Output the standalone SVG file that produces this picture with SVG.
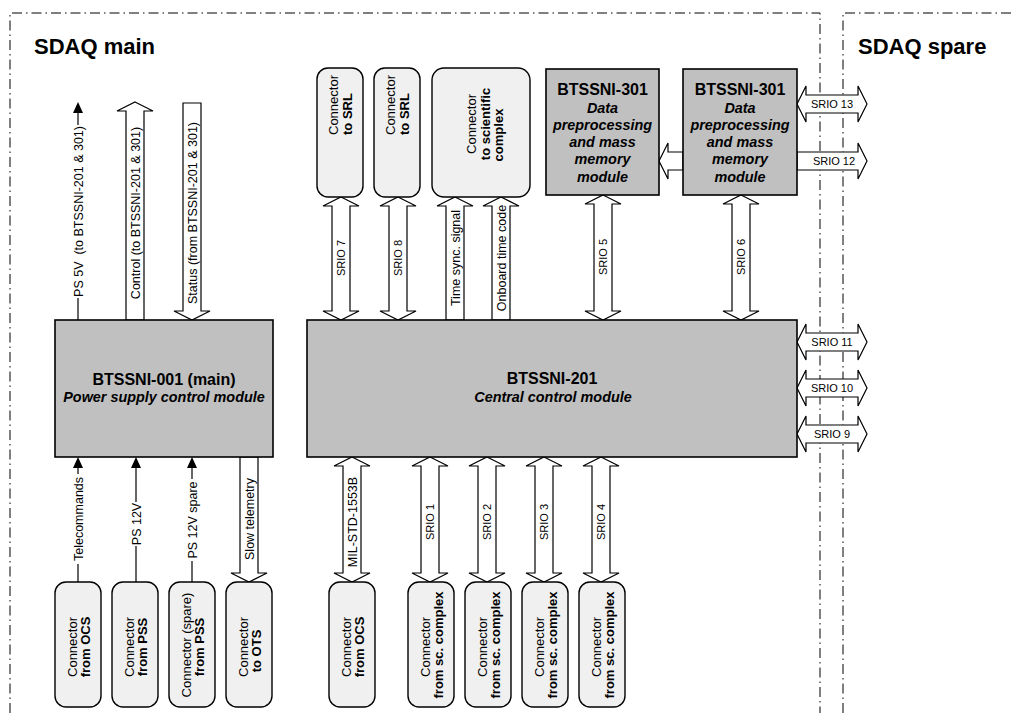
<svg xmlns="http://www.w3.org/2000/svg" width="1014" height="713" viewBox="0 0 1014 713">
<defs>
<style>
text{font-family:"Liberation Sans",Arial,sans-serif;fill:#000}
.border{fill:none;stroke:#000;stroke-width:1;stroke-dasharray:10 4 1.5 4}
.box{fill:#c0c0c0;stroke:#000;stroke-width:1.6}
.con{fill:#f0f0f0;stroke:#000;stroke-width:1.4}
.ba{fill:#fff;stroke:#000;stroke-width:1.2;stroke-linejoin:miter}
.ln{stroke:#000;stroke-width:1.2;fill:none}
.ah{fill:#000}
.t16{font-size:16px;font-weight:bold}
.ti{font-size:14.4px;font-weight:bold;font-style:italic}
.lbl{font-size:12.5px}
.sl{font-size:11px}
.cr{font-size:13px}
.cb{font-size:13px;font-weight:bold}
.hd{font-size:22px;font-weight:bold}
</style>
</defs>

<g id="frame">
<path class="border" d="M10,713 V13 H820 V713"/>
<path class="border" d="M843,713 V13 H1014"/>
<text class="hd" x="34" y="54">SDAQ main</text>
<text class="hd" x="858" y="54">SDAQ spare</text>
</g>

<g id="connectors">
<!-- power box top -->
<line class="ln" x1="78" y1="112" x2="78" y2="125"/>
<line class="ln" x1="78" y1="298" x2="78" y2="320"/>
<polygon class="ah" points="78,102 73,113 83,113"/>
<text class="lbl" transform="translate(82.5,211.5) rotate(-90)" text-anchor="middle" xml:space="preserve">PS 5V  (to BTSSNI-201 &amp; 301)</text>

<polygon class="ba" points="135,102 153,111 144,111 144,320 126,320 126,111 117,111"/>
<text class="lbl" transform="translate(139.5,213) rotate(-90)" text-anchor="middle">Control (to BTSSNI-201 &amp; 301)</text>

<polygon class="ba" points="183,103 201,103 201,311 210,311 192,320 174,311 183,311"/>
<text class="lbl" transform="translate(196.5,213) rotate(-90)" text-anchor="middle">Status (from BTSSNI-201 &amp; 301)</text>

<!-- power box bottom -->
<polygon class="ah" points="78,457 73,468 83,468"/>
<line class="ln" x1="78" y1="466" x2="78" y2="474"/>
<line class="ln" x1="78" y1="564" x2="78" y2="582"/>
<text class="lbl" transform="translate(82.5,519) rotate(-90)" text-anchor="middle">Telecommands</text>

<polygon class="ah" points="136,457 131,468 141,468"/>
<line class="ln" x1="136" y1="466" x2="136" y2="502"/>
<line class="ln" x1="136" y1="546" x2="136" y2="582"/>
<text class="lbl" transform="translate(140.5,524) rotate(-90)" text-anchor="middle">PS 12V</text>

<polygon class="ah" points="192,457 187,468 197,468"/>
<line class="ln" x1="192" y1="466" x2="192" y2="479"/>
<line class="ln" x1="192" y1="561" x2="192" y2="582"/>
<text class="lbl" transform="translate(196.5,520) rotate(-90)" text-anchor="middle">PS 12V spare</text>

<polygon class="ba" points="240,457 258,457 258,573 267,573 249,582 231,573 240,573"/>
<text class="lbl" transform="translate(253.5,519) rotate(-90)" text-anchor="middle">Slow telemetry</text>

<!-- top of central box -->
<polygon class="ba" points="341,197 359,206 350,206 350,311 359,311 341,320 323,311 332,311 332,206 323,206"/>
<text class="sl" transform="translate(345,258) rotate(-90)" text-anchor="middle">SRIO 7</text>
<polygon class="ba" points="398,197 416,206 407,206 407,311 416,311 398,320 380,311 389,311 389,206 380,206"/>
<text class="sl" transform="translate(402,258) rotate(-90)" text-anchor="middle">SRIO 8</text>

<polygon class="ba" points="455,197 473,206 464,206 464,320 446,320 446,206 437,206"/>
<text class="lbl" transform="translate(459.5,258) rotate(-90)" text-anchor="middle">Time sync. signal</text>
<polygon class="ba" points="501,197 519,206 510,206 510,320 492,320 492,206 483,206"/>
<text class="lbl" transform="translate(505.5,258) rotate(-90)" text-anchor="middle">Onboard time code</text>

<polygon class="ba" points="603,195 621,204 612,204 612,311 621,311 603,320 585,311 594,311 594,204 585,204"/>
<text class="sl" transform="translate(607,257) rotate(-90)" text-anchor="middle">SRIO 5</text>
<polygon class="ba" points="741,195 759,204 750,204 750,311 759,311 741,320 723,311 732,311 732,204 723,204"/>
<text class="sl" transform="translate(745,257) rotate(-90)" text-anchor="middle">SRIO 6</text>

<!-- between 301 boxes -->
<polygon class="ba" points="659,161 668,143 668,152 683,152 683,170 668,170 668,179"/>

<!-- right side horizontal -->
<polygon class="ba" points="797,104 806,86 806,95 858,95 858,86 867,104 858,122 858,113 806,113 806,122"/>
<text class="sl" x="832" y="108" text-anchor="middle">SRIO 13</text>
<polygon class="ba" points="797,152 858,152 858,143 867,161 858,179 858,170 797,170"/>
<text class="sl" x="834" y="165" text-anchor="middle">SRIO 12</text>
<polygon class="ba" points="797,342 806,324 806,333 858,333 858,324 867,342 858,360 858,351 806,351 806,360"/>
<text class="sl" x="832" y="346" text-anchor="middle">SRIO 11</text>
<polygon class="ba" points="797,388 806,370 806,379 858,379 858,370 867,388 858,406 858,397 806,397 806,406"/>
<text class="sl" x="832" y="392" text-anchor="middle">SRIO 10</text>
<polygon class="ba" points="797,434 806,416 806,425 858,425 858,416 867,434 858,452 858,443 806,443 806,452"/>
<text class="sl" x="832" y="438" text-anchor="middle">SRIO 9</text>

<!-- bottom of central box -->
<polygon class="ba" points="352,457 370,466 361,466 361,573 370,573 352,582 334,573 343,573 343,466 334,466"/>
<text class="lbl" transform="translate(356.5,522) rotate(-90)" text-anchor="middle">MIL-STD-1553B</text>
<polygon class="ba" points="430,457 448,466 439,466 439,573 448,573 430,582 412,573 421,573 421,466 412,466"/>
<text class="sl" transform="translate(434,522) rotate(-90)" text-anchor="middle">SRIO 1</text>
<polygon class="ba" points="487,457 505,466 496,466 496,573 505,573 487,582 469,573 478,573 478,466 469,466"/>
<text class="sl" transform="translate(491,522) rotate(-90)" text-anchor="middle">SRIO 2</text>
<polygon class="ba" points="544,457 562,466 553,466 553,573 562,573 544,582 526,573 535,573 535,466 526,466"/>
<text class="sl" transform="translate(548,522) rotate(-90)" text-anchor="middle">SRIO 3</text>
<polygon class="ba" points="601,457 619,466 610,466 610,573 619,573 601,582 583,573 592,573 592,466 583,466"/>
<text class="sl" transform="translate(605,522) rotate(-90)" text-anchor="middle">SRIO 4</text>
</g>

<g id="psu">
<rect class="box" x="55" y="320" width="218" height="137"/>
<text class="t16" x="164" y="385" text-anchor="middle">BTSSNI-001 (main)</text>
<text class="ti" x="164" y="402" text-anchor="middle">Power supply control module</text>
</g>

<g id="ccm">
<rect class="box" x="307" y="320" width="490" height="137"/>
<text class="t16" x="552" y="384" text-anchor="middle">BTSSNI-201</text>
<text class="ti" x="553" y="402" text-anchor="middle">Central control module</text>
</g>

<g id="dpm1">
<rect class="box" x="546" y="69" width="113" height="126"/>
<text class="t16" x="602.5" y="95" text-anchor="middle">BTSSNI-301</text>
<text class="ti" x="602.5" y="113" text-anchor="middle">Data</text>
<text class="ti" x="602.5" y="130" text-anchor="middle">preprocessing</text>
<text class="ti" x="602.5" y="147" text-anchor="middle">and mass</text>
<text class="ti" x="602.5" y="164" text-anchor="middle">memory</text>
<text class="ti" x="602.5" y="182" text-anchor="middle">module</text>
</g>

<g id="dpm2">
<rect class="box" x="683" y="69" width="114" height="126"/>
<text class="t16" x="740" y="95" text-anchor="middle">BTSSNI-301</text>
<text class="ti" x="740" y="113" text-anchor="middle">Data</text>
<text class="ti" x="740" y="130" text-anchor="middle">preprocessing</text>
<text class="ti" x="740" y="147" text-anchor="middle">and mass</text>
<text class="ti" x="740" y="164" text-anchor="middle">memory</text>
<text class="ti" x="740" y="182" text-anchor="middle">module</text>
</g>

<g id="srl1">
<rect class="con" x="317" y="68" width="46" height="129" rx="11"/>
<text class="cr" transform="translate(338,135) rotate(-90)">Connector</text>
<text class="cb" transform="translate(352,135) rotate(-90)">to SRL</text>
</g>
<g id="srl2">
<rect class="con" x="374" y="68" width="46" height="129" rx="11"/>
<text class="cr" transform="translate(395,135) rotate(-90)">Connector</text>
<text class="cb" transform="translate(409,135) rotate(-90)">to SRL</text>
</g>
<g id="sci">
<rect class="con" x="432" y="68" width="98" height="129" rx="12"/>
<text class="cr" transform="translate(476,124) rotate(-90)" text-anchor="middle">Connector</text>
<text class="cb" transform="translate(490,124) rotate(-90)" text-anchor="middle">to scientific</text>
<text class="cb" transform="translate(503,135) rotate(-90)" text-anchor="middle">complex</text>
</g>

<g id="c-ocs1">
<rect class="con" x="55" y="582" width="46" height="125" rx="11"/>
<text class="cr" transform="translate(76.5,647) rotate(-90)" text-anchor="middle">Connector</text>
<text class="cb" transform="translate(90,647) rotate(-90)" text-anchor="middle">from OCS</text>
</g>
<g id="c-pss">
<rect class="con" x="112" y="582" width="46" height="125" rx="11"/>
<text class="cr" transform="translate(133.5,647) rotate(-90)" text-anchor="middle">Connector</text>
<text class="cb" transform="translate(147,647) rotate(-90)" text-anchor="middle">from PSS</text>
</g>
<g id="c-pss-spare">
<rect class="con" x="169" y="582" width="46" height="125" rx="11"/>
<text class="cr" transform="translate(190.5,645) rotate(-90)" text-anchor="middle">Connector (spare)</text>
<text class="cb" transform="translate(204,647) rotate(-90)" text-anchor="middle">from PSS</text>
</g>
<g id="c-ots">
<rect class="con" x="226" y="582" width="46" height="125" rx="11"/>
<text class="cr" transform="translate(247.5,647) rotate(-90)" text-anchor="middle">Connector</text>
<text class="cb" transform="translate(261,651) rotate(-90)" text-anchor="middle">to OTS</text>
</g>
<g id="c-ocs2">
<rect class="con" x="329" y="582" width="46" height="125" rx="11"/>
<text class="cr" transform="translate(350.5,647) rotate(-90)" text-anchor="middle">Connector</text>
<text class="cb" transform="translate(364,647) rotate(-90)" text-anchor="middle">from OCS</text>
</g>
<g id="c-sc1">
<rect class="con" x="408" y="582" width="46" height="125" rx="11"/>
<text class="cr" transform="translate(429.5,647) rotate(-90)" text-anchor="middle">Connector</text>
<text class="cb" transform="translate(443,645) rotate(-90)" text-anchor="middle">from sc. complex</text>
</g>
<g id="c-sc2">
<rect class="con" x="465" y="582" width="46" height="125" rx="11"/>
<text class="cr" transform="translate(486.5,647) rotate(-90)" text-anchor="middle">Connector</text>
<text class="cb" transform="translate(500,645) rotate(-90)" text-anchor="middle">from sc. complex</text>
</g>
<g id="c-sc3">
<rect class="con" x="522" y="582" width="46" height="125" rx="11"/>
<text class="cr" transform="translate(543.5,647) rotate(-90)" text-anchor="middle">Connector</text>
<text class="cb" transform="translate(557,645) rotate(-90)" text-anchor="middle">from sc. complex</text>
</g>
<g id="c-sc4">
<rect class="con" x="579" y="582" width="46" height="125" rx="11"/>
<text class="cr" transform="translate(600.5,647) rotate(-90)" text-anchor="middle">Connector</text>
<text class="cb" transform="translate(614,645) rotate(-90)" text-anchor="middle">from sc. complex</text>
</g>
</svg>
